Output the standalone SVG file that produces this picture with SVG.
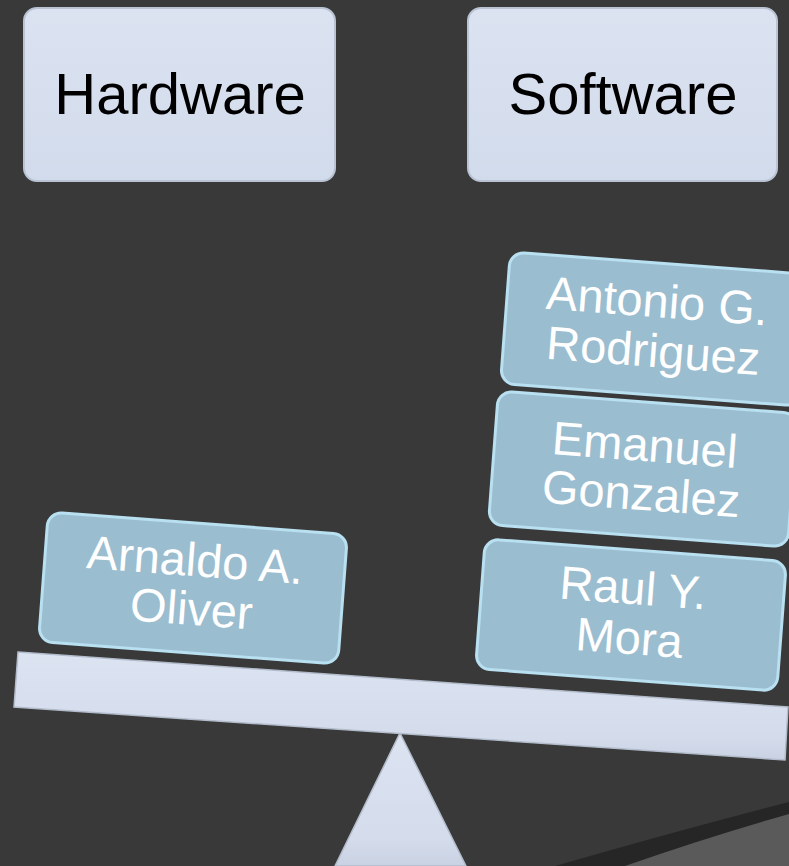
<svg xmlns="http://www.w3.org/2000/svg" width="789" height="866" viewBox="0 0 789 866">
<defs>
<style>
.hdr{fill:url(#gHdr);stroke:#b9c3d3;stroke-width:2}
.hdrt{font-family:"Liberation Sans",Arial,sans-serif;font-size:58px;fill:#000;text-anchor:middle}
.name{fill:#9bbdd0;stroke:#b8e0f1;stroke-width:3}
.namet{font-family:"Liberation Sans",Arial,sans-serif;font-size:47px;fill:#fff;text-anchor:middle}
.light{fill:url(#gLight);stroke:#b3bccb;stroke-width:1.5}
</style>
<linearGradient id="gHdr" x1="0" y1="0" x2="0" y2="1">
<stop offset="0" stop-color="#dbe3f1"/>
<stop offset="1" stop-color="#d2dbeb"/>
</linearGradient>
<linearGradient id="gLight" x1="0" y1="0" x2="0" y2="1">
<stop offset="0" stop-color="#dce4f2"/>
<stop offset="0.8" stop-color="#d4dcec"/>
<stop offset="1" stop-color="#c9d2e2"/>
</linearGradient>
</defs>
<rect x="0" y="0" width="789" height="866" fill="#393939"/>
<g id="corner">
<path d="M555 866 Q680 830 789 802 L789 866 Z" fill="#262626"/>
<path d="M625 866 Q705 838 789 814 L789 866 Z" fill="#5a5a5a"/>
</g>
<g id="hardware">
<rect class="hdr" x="24" y="8" width="311" height="173" rx="13"/>
<text class="hdrt" x="180" y="114">Hardware</text>
</g>
<g id="software">
<rect class="hdr" x="468" y="8" width="309" height="173" rx="13"/>
<text class="hdrt" x="623" y="114">Software</text>
</g>
<g id="fulcrum">
<polygon class="light" points="400,733 466,866 335,866"/>
</g>
<g id="beam">
<polygon class="light" points="18,652 788,707 785,760 14,707"/>
</g>
<g id="arnaldo" transform="translate(193,588) rotate(4.3)">
<rect class="name" x="-150" y="-65" width="300" height="130" rx="14"/>
<text class="namet" x="0" y="-12">Arnaldo A.</text>
<text class="namet" x="0" y="37">Oliver</text>
</g>
<g id="antonio" transform="translate(655,329) rotate(4.3)">
<rect class="name" x="-150" y="-66" width="300" height="132" rx="14"/>
<text class="namet" x="0" y="-12">Antonio G.</text>
<text class="namet" x="0" y="38">Rodriguez</text>
</g>
<g id="emanuel" transform="translate(643,469) rotate(4.3)">
<rect class="name" x="-150" y="-67" width="300" height="134" rx="14"/>
<text class="namet" x="0" y="-8">Emanuel</text>
<text class="namet" x="0" y="41">Gonzalez</text>
</g>
<g id="raul" transform="translate(631,615) rotate(4.3)">
<rect class="name" x="-151" y="-65" width="302" height="130" rx="14"/>
<text class="namet" x="0" y="-11">Raul Y.</text>
<text class="namet" x="0" y="39">Mora</text>
</g>
<g id="connectors"/>
</svg>
